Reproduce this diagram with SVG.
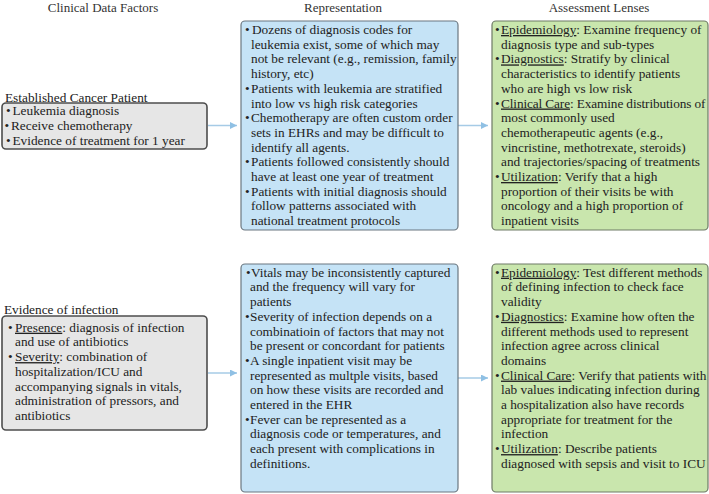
<svg xmlns="http://www.w3.org/2000/svg" width="709" height="494" viewBox="0 0 709 494">
<defs>
<style>
.t{font-family:"Liberation Serif","Times New Roman",serif;font-size:13.3px;fill:#222}
.h{font-family:"Liberation Serif","Times New Roman",serif;font-size:13px;fill:#333;text-anchor:middle}
.gray{fill:#e6e6e6;stroke:#4d4d4d;stroke-width:1.6}
.blue{fill:#c5e3f6;stroke:#6b7780;stroke-width:1.2}
.green{fill:#c9e6ad;stroke:#6e7a66;stroke-width:1.2}
.u{text-decoration:underline}
.c{stroke:#a6cbe6;stroke-width:1.5;fill:none}
</style>
<marker id="ah" viewBox="0 0 10 10" refX="10" refY="5" markerWidth="7" markerHeight="7" markerUnits="userSpaceOnUse" orient="auto">
<path d="M0,0 L10,5 L0,10 z" fill="#8fc0e4"/>
</marker>
</defs>

<g id="headers">
<text class="h" x="103" y="12">Clinical Data Factors</text>
<text class="h" x="343" y="12">Representation</text>
<text class="h" x="599" y="12">Assessment Lenses</text>
</g>

<g id="connectors">
<line class="c" x1="208" y1="125.5" x2="237" y2="125.5" marker-end="url(#ah)"/>
<line class="c" x1="458" y1="125.5" x2="488" y2="125.5" marker-end="url(#ah)"/>
<line class="c" x1="208" y1="373" x2="237" y2="373" marker-end="url(#ah)"/>
<line class="c" x1="458" y1="378" x2="488" y2="378" marker-end="url(#ah)"/>
</g>

<g id="cancer-patient">
<text class="t" x="5" y="101.5">Established Cancer Patient</text>
<rect class="gray" x="2" y="103" width="205" height="46" rx="4"/>
<text class="t" x="6" y="115">•</text><text class="t" x="12.5" y="115">Leukemia diagnosis</text>
<text class="t" x="4.5" y="130">•</text><text class="t" x="11" y="130">Receive chemotherapy</text>
<text class="t" x="6" y="144.5">•</text><text class="t" x="12.5" y="144.5">Evidence of treatment for 1 year</text>
</g>

<g id="representation-1">
<rect class="blue" x="241" y="21" width="217" height="209" rx="4"/>
<text class="t">
<tspan x="245" y="34">•</tspan><tspan x="252" y="34">Dozens of diagnosis codes for</tspan>
<tspan x="251" y="48.7">leukemia exist, some of which may</tspan>
<tspan x="251" y="63.4">not be relevant (e.g., remission, family</tspan>
<tspan x="251" y="78.1">history, etc)</tspan>
<tspan x="245" y="92.8">•</tspan><tspan x="251" y="92.8">Patients with leukemia are stratified</tspan>
<tspan x="251" y="107.5">into low vs high risk categories</tspan>
<tspan x="245" y="122.2">•</tspan><tspan x="251" y="122.2">Chemotherapy are often custom order</tspan>
<tspan x="251" y="136.9">sets in EHRs and may be difficult to</tspan>
<tspan x="251" y="151.6">identify all agents.</tspan>
<tspan x="245" y="166.3">•</tspan><tspan x="251" y="166.3">Patients followed consistently should</tspan>
<tspan x="251" y="181">have at least one year of treatment</tspan>
<tspan x="245" y="195.7">•</tspan><tspan x="251" y="195.7">Patients with initial diagnosis should</tspan>
<tspan x="251" y="210.4">follow patterns associated with</tspan>
<tspan x="251" y="225.1">national treatment protocols</tspan>
</text>
</g>

<g id="lenses-1">
<rect class="green" x="492" y="21" width="216" height="209" rx="4"/>
<text class="t">
<tspan x="495" y="34">•</tspan><tspan x="501" y="34" class="u">Epidemiology</tspan><tspan>: Examine frequency of</tspan>
<tspan x="501" y="48.7">diagnosis type and sub-types</tspan>
<tspan x="495" y="63.4">•</tspan><tspan x="501" y="63.4" class="u">Diagnostics</tspan><tspan>: Stratify by clinical</tspan>
<tspan x="501" y="78.1">characteristics to identify patients</tspan>
<tspan x="501" y="92.8">who are high vs low risk</tspan>
<tspan x="495" y="107.5">•</tspan>
</text>
<text class="t" style="letter-spacing:-0.12px"><tspan x="501" y="107.5" class="u">Clinical Care</tspan><tspan>: Examine distributions of</tspan></text>
<text class="t">
<tspan x="501" y="122.2">most commonly used</tspan>
<tspan x="501" y="136.9">chemotherapeutic agents (e.g.,</tspan>
<tspan x="501" y="151.6">vincristine, methotrexate, steroids)</tspan>
<tspan x="501" y="166.3">and trajectories/spacing of treatments</tspan>
<tspan x="495" y="181">•</tspan><tspan x="501" y="181" class="u">Utilization</tspan><tspan>: Verify that a high</tspan>
<tspan x="501" y="195.7">proportion of their visits be with</tspan>
<tspan x="501" y="210.4">oncology and a high proportion of</tspan>
<tspan x="501" y="225.1">inpatient visits</tspan>
</text>
</g>

<g id="infection">
<text class="t" x="4" y="313.5">Evidence of infection</text>
<rect class="gray" x="2" y="316" width="205" height="114" rx="4"/>
<text class="t">
<tspan x="8" y="331.7">•</tspan><tspan x="15" y="331.7" class="u">Presence</tspan><tspan>: diagnosis of infection</tspan>
<tspan x="15" y="346.4">and use of antibiotics</tspan>
<tspan x="8" y="361.1">•</tspan><tspan x="15" y="361.1" class="u">Severity</tspan><tspan>: combination of</tspan>
<tspan x="15" y="375.8">hospitalization/ICU and</tspan>
<tspan x="15" y="390.5">accompanying signals in vitals,</tspan>
<tspan x="15" y="405.2">administration of pressors, and</tspan>
<tspan x="15" y="419.9">antibiotics</tspan>
</text>
</g>

<g id="representation-2">
<rect class="blue" x="241" y="264" width="217" height="228" rx="4"/>
<text class="t">
<tspan x="246" y="276.7">•</tspan><tspan x="251" y="276.7">Vitals may be inconsistently captured</tspan>
<tspan x="250" y="291.4">and the frequency will vary for</tspan>
<tspan x="250" y="306.1">patients</tspan>
<tspan x="245" y="320.8">•</tspan><tspan x="250" y="320.8">Severity of infection depends on a</tspan>
<tspan x="250" y="335.5">combinatioin of factors that may not</tspan>
<tspan x="250" y="350.2">be present or concordant for patients</tspan>
<tspan x="245" y="364.9">•</tspan><tspan x="250" y="364.9">A single inpatient visit may be</tspan>
<tspan x="250" y="379.6">represented as multple visits, based</tspan>
<tspan x="250" y="394.3">on how these visits are recorded and</tspan>
<tspan x="250" y="409">entered in the EHR</tspan>
<tspan x="245" y="423.7">•</tspan><tspan x="250" y="423.7">Fever can be represented as a</tspan>
<tspan x="250" y="438.4">diagnosis code or temperatures, and</tspan>
<tspan x="250" y="453.1">each present with complications in</tspan>
<tspan x="250" y="467.8">definitions.</tspan>
</text>
</g>

<g id="lenses-2">
<rect class="green" x="492" y="264" width="216" height="228" rx="4"/>
<text class="t">
<tspan x="495" y="276.7">•</tspan><tspan x="501" y="276.7" class="u">Epidemiology</tspan><tspan>: Test different methods</tspan>
<tspan x="501" y="291.4">of defining infection to check face</tspan>
<tspan x="501" y="306.1">validity</tspan>
<tspan x="495" y="320.8">•</tspan><tspan x="501" y="320.8" class="u">Diagnostics</tspan><tspan>: Examine how often the</tspan>
<tspan x="501" y="335.5">different methods used to represent</tspan>
<tspan x="501" y="350.2">infection agree across clinical</tspan>
<tspan x="501" y="364.9">domains</tspan>
<tspan x="495" y="379.6">•</tspan><tspan x="501" y="379.6" class="u">Clinical Care</tspan><tspan>: Verify that patients with</tspan>
<tspan x="501" y="394.3">lab values indicating infection during</tspan>
<tspan x="501" y="409">a hospitalization also have records</tspan>
<tspan x="501" y="423.7">appropriate for treatment for the</tspan>
<tspan x="501" y="438.4">infection</tspan>
<tspan x="495" y="453.1">•</tspan><tspan x="501" y="453.1" class="u">Utilization</tspan><tspan>: Describe patients</tspan>
<tspan x="501" y="467.8">diagnosed with sepsis and visit to ICU</tspan>
</text>
</g>
</svg>
